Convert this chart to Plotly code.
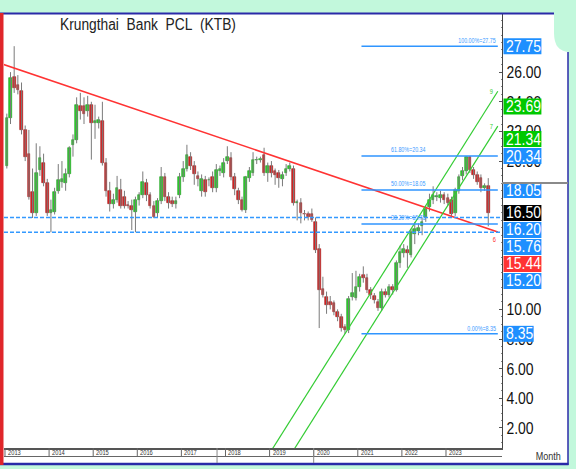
import json
import plotly.graph_objects as go

# ---------------- data ----------------
title_text = "Krungthai\u00a0\u00a0Bank\u00a0\u00a0PCL\u00a0\u00a0(KTB)"
years = [2013, 2014, 2015, 2016, 2017, 2018, 2019, 2020, 2021, 2022, 2023]
axis_title = "Month"

open_ = [
    19.7, 22.9, 25.7, 25.1, 24.7, 22.1, 20.5, 17.9, 16.5, 19.4, 19.9, 18.5,
    16.5, 16.6, 18.0, 18.6, 18.5, 19.1, 21.1, 21.4, 23.7, 23.7, 23.4, 23.8,
    22.6, 22.6, 22.7, 19.9, 18.0, 17.1, 17.4, 18.05, 17.6, 17.05, 17.0, 16.6,
    17.4, 17.7, 18.5, 17.7, 17.0, 16.5, 17.3, 18.9, 17.6, 17.3, 17.1, 17.7,
    18.9, 19.5, 20.3, 19.7, 19.0, 18.0, 18.7, 18.7, 18.9, 18.2, 19.3, 19.2,
    20.0, 20.2, 18.9, 18.0, 17.4, 16.7, 18.85, 19.2, 20.05, 20.1, 20.4, 19.2,
    19.7, 19.3, 19.2, 18.8, 19.2, 19.5, 19.5, 17.2, 17.2, 16.45, 16.45, 16.4,
    15.9, 14.1, 11.4, 10.85, 10.5, 10.4, 9.8, 9.5, 8.8, 8.6, 10.85, 10.8,
    11.5, 12.3, 12.1, 11.3, 10.9, 10.5, 10.1, 11.2, 11.0, 11.5, 11.3, 13.1,
    13.8, 14.0, 13.7, 15.1, 15.3, 15.6, 16.2, 16.9, 17.4, 17.6, 17.5, 17.7,
    17.5, 17.4, 16.5, 18.0, 19.0, 19.3, 20.3, 19.4, 19.06, 18.85, 18.2, 18.3,
]
high = [
    23.2, 26.0, 27.75, 25.8, 25.3, 22.4, 22.1, 19.5, 21.2, 21.0, 20.5, 18.8,
    17.4, 18.2, 19.8, 20.0, 19.5, 21.0, 21.8, 24.3, 24.6, 24.3, 24.4, 24.0,
    23.8, 23.0, 24.0, 20.2, 18.6, 17.8, 19.0, 18.8, 18.0, 17.3, 17.4, 17.6,
    17.9, 19.3, 18.8, 17.9, 17.3, 17.5, 19.6, 19.2, 17.9, 17.6, 17.6, 19.2,
    20.0, 21.1, 20.6, 20.0, 19.3, 19.1, 19.0, 18.9, 19.3, 19.8, 19.7, 20.2,
    21.0, 20.6, 19.2, 18.2, 17.6, 19.0, 19.6, 20.6, 20.3, 20.3, 20.9, 19.9,
    20.0, 19.5, 19.4, 19.3, 19.8, 19.9, 19.7, 17.4, 17.5, 16.7, 16.6, 16.8,
    16.2, 14.4, 12.2, 11.2, 10.9, 10.6, 10.0, 9.7, 9.0, 10.9, 12.45, 12.6,
    12.4, 12.9, 12.4, 11.5, 11.1, 10.7, 11.4, 11.4, 11.7, 11.7, 13.3, 14.3,
    14.4, 14.3, 15.4, 15.9, 15.8, 16.2, 17.0, 17.8, 18.3, 17.9, 18.0, 17.9,
    17.8, 17.6, 18.2, 19.1, 19.6, 20.34, 20.34, 19.6, 19.3, 19.1, 18.5, 18.85,
]
low = [
    19.5, 22.5, 24.6, 24.5, 21.8, 20.0, 17.4, 16.16, 16.3, 19.0, 18.3, 16.3,
    15.2, 16.4, 17.8, 18.2, 18.0, 18.9, 20.3, 21.2, 22.8, 22.5, 23.0, 20.1,
    21.5, 22.2, 19.7, 17.6, 16.6, 16.8, 17.2, 16.8, 16.8, 16.8, 15.35, 15.2,
    17.0, 17.5, 17.3, 16.8, 16.15, 16.2, 17.1, 17.3, 16.8, 16.9, 16.8, 17.5,
    18.6, 19.3, 19.4, 18.4, 18.3, 17.6, 17.6, 18.3, 17.9, 17.9, 19.0, 18.9,
    19.8, 18.7, 17.7, 17.1, 16.6, 16.5, 18.6, 19.0, 19.8, 19.9, 19.0, 18.6,
    18.9, 18.4, 18.2, 18.3, 19.0, 19.3, 17.0, 16.0, 15.8, 16.0, 16.0, 15.9,
    13.8, 8.74, 10.8, 9.7, 10.0, 9.6, 9.2, 8.5, 8.35, 8.4, 10.6, 10.6,
    11.2, 11.8, 11.1, 10.7, 10.4, 9.9, 9.9, 10.8, 10.8, 11.0, 11.2, 12.8,
    13.5, 12.8, 13.5, 14.4, 15.0, 15.0, 15.9, 16.6, 17.1, 17.3, 17.2, 17.1,
    17.0, 16.2, 16.3, 17.8, 18.7, 19.1, 19.2, 18.8, 18.4, 17.9, 18.0, 15.6,
]
close = [
    22.9, 25.6, 24.9, 24.8, 22.1, 20.3, 17.6, 16.5, 19.2, 20.2, 18.5, 16.5,
    16.7, 17.9, 18.7, 18.8, 19.1, 20.9, 21.4, 23.8, 23.4, 23.2, 23.8, 22.6,
    22.7, 22.8, 19.9, 18.0, 17.1, 17.4, 18.2, 17.0, 17.0, 16.95, 16.7, 17.4,
    17.7, 18.6, 17.7, 17.0, 16.2, 17.3, 18.9, 17.6, 17.2, 17.1, 17.3, 18.9,
    19.5, 20.4, 19.7, 19.1, 18.8, 18.8, 17.9, 18.75, 18.2, 19.4, 19.5, 19.9,
    20.3, 18.9, 18.1, 17.4, 16.7, 18.9, 19.3, 20.07, 20.1, 20.15, 19.2, 19.7,
    19.2, 19.06, 18.85, 19.06, 19.5, 19.7, 17.2, 17.25, 16.5, 16.4, 16.25, 16.0,
    14.0, 11.3, 11.0, 10.3, 10.3, 9.8, 9.5, 8.74, 8.6, 10.7, 11.1, 11.5,
    12.2, 12.1, 11.3, 11.0, 10.6, 10.1, 11.2, 11.0, 11.5, 11.3, 13.1, 13.9,
    14.1, 13.8, 15.2, 15.4, 15.5, 15.9, 16.8, 17.4, 17.7, 17.65, 17.7, 17.4,
    17.2, 16.4, 18.05, 18.9, 19.3, 20.3, 19.4, 19.06, 18.6, 18.2, 18.3, 16.5,
]

support_levels = [16.20, 15.20]
fib_ratios = [1.0, 0.618, 0.5, 0.382, 0.0]
trend_points = [(0, 26.44), (131, 15.44)]        # (month index, price)
channel_points = [(92, 8.35), (131, 23.69)]      # upper channel line
channel_lower_last = 21.34
channel_tags = ["9", "7"]
trend_tag = "6"
y_tickvals = [2, 4, 6, 8, 10, 20, 22, 24, 26]

# ---------------- geometry / style ----------------
W, H = 576, 469
L, R, T, B = 4, 74, 14, 21
PW, PH = W - L - R, H - T - B
X_RANGE = [-0.77, 134.74]
Y_RANGE = [0.65, 29.92]
YSCALE = PH / (Y_RANGE[1] - Y_RANGE[0])
LINE_END = 133.6
FIB_START = 96.5
NARROW_SCALE = 0.82

FONT = "Liberation Sans, Arial, sans-serif"
MINT = "#c2f8dc"
BLUE = "#1e8fff"
GREEN = "#00c800"
RED = "#ff3333"
UP_FILL, UP_LINE = "#2fd02f", "#119911"
DN_FILL, DN_LINE = "#dd2222", "#991515"


def px_x(px):
    return (px - L) / PW


def px_y(py):
    return (T + PH - py) / PH


def val_to_py(v):
    return T + (Y_RANGE[1] - v) * YSCALE


n = len(close)
idx = list(range(n))
last = n - 1

fig = go.Figure()

# wicks
wx, wy = [], []
for i in idx:
    wx += [i, i, None]
    wy += [low[i], high[i], None]
fig.add_trace(go.Scatter(x=wx, y=wy, mode="lines", line=dict(color="#7a7a7a", width=1),
                         hoverinfo="skip", showlegend=False))

# bodies
base = [min(o, c) for o, c in zip(open_, close)]
hgt = [max(abs(c - o), 0.05) for o, c in zip(open_, close)]
up = [c >= o for o, c in zip(open_, close)]
fig.add_trace(go.Bar(x=idx, y=hgt, base=base, width=0.72,
                     marker=dict(color=[UP_FILL if u else DN_FILL for u in up],
                                 line=dict(color=[UP_LINE if u else DN_LINE for u in up], width=0.6)),
                     showlegend=False, hoverinfo="skip"))

# trend line
tr_slope = (trend_points[1][1] - trend_points[0][1]) / (trend_points[1][0] - trend_points[0][0])


def trend(i):
    return trend_points[1][1] + tr_slope * (i - trend_points[1][0])


tx = [X_RANGE[0] - 1, LINE_END]
fig.add_trace(go.Scatter(x=tx, y=[trend(v) for v in tx], mode="lines",
                         line=dict(color=RED, width=1.6), hoverinfo="skip", showlegend=False))

# channel
ch_slope = (channel_points[1][1] - channel_points[0][1]) / (channel_points[1][0] - channel_points[0][0])
ch_offset = channel_points[1][1] - channel_lower_last


def ch_upper(i):
    return channel_points[1][1] + ch_slope * (i - channel_points[1][0])


def ch_lower(i):
    return ch_upper(i) - ch_offset


for fn in (ch_upper, ch_lower):
    x0 = channel_points[1][0] - fn(channel_points[1][0]) / ch_slope
    fig.add_trace(go.Scatter(x=[x0, LINE_END], y=[fn(x0), fn(LINE_END)], mode="lines",
                             line=dict(color="#33cc33", width=1.2), hoverinfo="skip", showlegend=False))

shapes = []
annotations = []
custom_scale = {}


def add_ann(scale=None, **kw):
    kw.setdefault("align", {"left": "left", "right": "right"}.get(kw.get("xanchor"), "center"))
    annotations.append(kw)
    if scale is not None:
        custom_scale[len(annotations) - 1] = scale


# fib levels
hi, lo = max(high), min(low)
fib_levels = [lo + r * (hi - lo) for r in fib_ratios]
for r, lev in zip(fib_ratios, fib_levels):
    shapes.append(dict(type="line", xref="x", yref="y", x0=FIB_START, x1=LINE_END, y0=lev, y1=lev,
                       line=dict(color="#2f95ff", width=1.5), layer="above"))
    txt = f"{r*100:.2f}%={lev:.2f}"
    if r in (1.0, 0.0):
        add_ann(x=LINE_END, y=lev, xref="x", yref="y", text=txt, showarrow=False,
                xanchor="right", yanchor="bottom", yshift=0,
                font=dict(family=FONT, size=6.5, color="#3d9bff"))
    else:
        add_ann(x=FIB_START, y=lev, xref="x", yref="y", text=txt, showarrow=False,
                xanchor="left", yanchor="bottom", xshift=28, yshift=1,
                font=dict(family=FONT, size=6.5, color="#3d9bff"))

# support lines
for s in support_levels:
    shapes.append(dict(type="line", xref="paper", yref="y", x0=0, x1=1, y0=s, y1=s,
                       line=dict(color="#3399ff", width=1.6, dash="4px,2px"), layer="above"))

# line tags
for fn, tag in zip((ch_upper, ch_lower), channel_tags):
    add_ann(x=LINE_END, y=fn(LINE_END), xref="x", yref="y", text=tag, showarrow=False,
            xanchor="right", yanchor="middle", xshift=-3,
            font=dict(family=FONT, size=7, color="#33cc33"))
add_ann(x=LINE_END, y=trend(LINE_END), xref="x", yref="y", text=trend_tag, showarrow=False,
        xanchor="right", yanchor="top", yshift=-2,
        font=dict(family=FONT, size=7, color=RED))

# right-side price boxes (stacked so they do not overlap)
labels = [(v, BLUE) for v in fib_levels]
labels += [(ch_upper(last), GREEN), (ch_lower(last), GREEN), (trend(last), RED)]
labels += [(v, BLUE) for v in support_levels]
anchor = close[last]
above = sorted([l for l in labels if l[0] > anchor], key=lambda t: t[0])
below = sorted([l for l in labels if l[0] < anchor], key=lambda t: -t[0])
placed = [(anchor, "#000000", val_to_py(anchor))]
GAP = 17
prev = val_to_py(anchor)
for v, c in above:
    p = min(val_to_py(v), prev - GAP)
    placed.append((v, c, p))
    prev = p
prev = val_to_py(anchor)
for v, c in below:
    p = max(val_to_py(v), prev + GAP)
    placed.append((v, c, p))
    prev = p

for v, c, p in placed:
    txt = f"{v:.2f}"
    w = 7.75 * (len(txt) - 1) + 3.9 + 3
    shapes.append(dict(type="rect", xref="paper", yref="paper",
                       x0=px_x(503.5), x1=px_x(503.5 + w), y0=px_y(p + 8), y1=px_y(p - 8),
                       fillcolor=c, line=dict(width=0), layer="above"))
    add_ann(x=px_x(504.5), y=px_y(p), xref="paper", yref="paper", text=txt,
            showarrow=False, xanchor="left", yanchor="middle", borderpad=0,
            font=dict(family=FONT, size=17, color="white"))

# ---------- frame decorations ----------
shapes.append(dict(type="rect", xref="paper", yref="paper", x0=px_x(0), x1=px_x(568),
                   y0=px_y(465), y1=px_y(13), fillcolor="white", line=dict(width=0), layer="below"))
corner = (f"M {px_x(554)},{px_y(-1)} L {px_x(554)},{px_y(33)} "
          f"Q {px_x(554)},{px_y(52)} {px_x(570)},{px_y(52)} L {px_x(577)},{px_y(52)} "
          f"L {px_x(577)},{px_y(-1)} Z")
shapes.append(dict(type="path", xref="paper", yref="paper", path=corner, fillcolor=MINT,
                   line=dict(width=0), layer="above"))
shapes.append(dict(type="line", xref="paper", yref="paper", x0=px_x(0), x1=px_x(554),
                   y0=px_y(13.5), y1=px_y(13.5), line=dict(color="#2a2aa8", width=2), layer="above"))
shapes.append(dict(type="line", xref="paper", yref="paper", x0=px_x(0), x1=px_x(568.5),
                   y0=px_y(464), y1=px_y(464), line=dict(color="#2a2aa8", width=2.5), layer="above"))
shapes.append(dict(type="line", xref="paper", yref="paper", x0=px_x(568), x1=px_x(568),
                   y0=px_y(52), y1=px_y(465), line=dict(color="#2a2aa8", width=1.5), layer="above"))
shapes.append(dict(type="rect", xref="paper", yref="paper", x0=px_x(0), x1=px_x(3.5),
                   y0=px_y(465), y1=px_y(13), fillcolor="#e0262a", line=dict(width=0), layer="above"))
shapes.append(dict(type="line", xref="paper", yref="paper", x0=1, x1=px_x(568),
                   y0=px_y(183), y1=px_y(183), line=dict(color="#8a8a8a", width=2), layer="above"))

# date strip
shapes.append(dict(type="line", xref="paper", yref="paper", x0=0, x1=1,
                   y0=px_y(456.5), y1=px_y(456.5), line=dict(color="#666", width=1), layer="above"))
for k, yr in enumerate(years):
    bx = 12 * k - 0.5
    shapes.append(dict(type="line", xref="x", yref="paper", x0=bx, x1=bx,
                       y0=0, y1=px_y(456.5), line=dict(color="#666", width=1), layer="above"))
    add_ann(x=bx, y=px_y(452.5), xref="x", yref="paper", text=str(yr), showarrow=False,
            xanchor="left", yanchor="middle", xshift=1,
            font=dict(family=FONT, size=7, color="#333"))
for bx in (57.2, 7 * 12 - 0.5):
    shapes.append(dict(type="line", xref="x", yref="paper", x0=bx, x1=bx,
                       y0=px_y(463), y1=0, line=dict(color="#888", width=1), layer="above"))

add_ann(x=px_x(548), y=px_y(456), xref="paper", yref="paper", text=axis_title,
        showarrow=False, xanchor="center", yanchor="middle",
        font=dict(family=FONT, size=11, color="#333"))
add_ann(scale=0.86, x=px_x(58), y=px_y(24.5), xref="paper", yref="paper", text=title_text,
        showarrow=False, xanchor="left", yanchor="middle",
        font=dict(family=FONT, size=16, color="#222"))

fig.update_layout(
    width=W, height=H, margin=dict(l=L, r=R, t=T, b=B, pad=0),
    paper_bgcolor=MINT, plot_bgcolor="white", barmode="overlay", bargap=0,
    showlegend=False, shapes=shapes, annotations=annotations,
    xaxis=dict(range=X_RANGE, showgrid=False, zeroline=False, showticklabels=False, ticks="",
               showline=True, linecolor="#555", linewidth=2, fixedrange=True),
    yaxis=dict(range=Y_RANGE, side="right", showgrid=False, zeroline=False,
               tickvals=y_tickvals, ticktext=[f"{v:.2f}" for v in y_tickvals],
               tickfont=dict(family=FONT, size=17, color="#111"),
               ticks="inside", ticklen=3, tickcolor="#555",
               minor=dict(dtick=0.5, ticks="inside", ticklen=1.5, tickcolor="#888"),
               showline=True, linecolor="#444", linewidth=1, fixedrange=True),
)

# page margin reset + narrow-font emulation (glyphs squeezed with textLength)
post_js = """
document.body.style.margin='0';
document.body.style.overflow='hidden';
var gd=document.getElementById('{plot_id}');
var SX=__SX__, CUSTOM=__CUSTOM__;
function squeeze(t, s){
  var w=t.getComputedTextLength();
  if(!(w>0)){return;}
  t.setAttribute('lengthAdjust','spacingAndGlyphs');
  t.setAttribute('textLength', String(w*s));
}
gd.querySelectorAll('g.annotation').forEach(function(g){
  var i=parseInt(g.getAttribute('data-index'));
  var t=g.querySelector('text.annotation-text');
  if(!t){return;}
  var s=(String(i) in CUSTOM)?CUSTOM[String(i)]:SX;
  squeeze(t,s);
});
gd.querySelectorAll('g.ytick text').forEach(function(t){squeeze(t,SX);});
"""
post_js = (post_js.replace("__SX__", str(NARROW_SCALE))
           .replace("__CUSTOM__", json.dumps({str(k): v for k, v in custom_scale.items()})))

fig.write_html("out.html", post_script=post_js, config={"displayModeBar": False})
